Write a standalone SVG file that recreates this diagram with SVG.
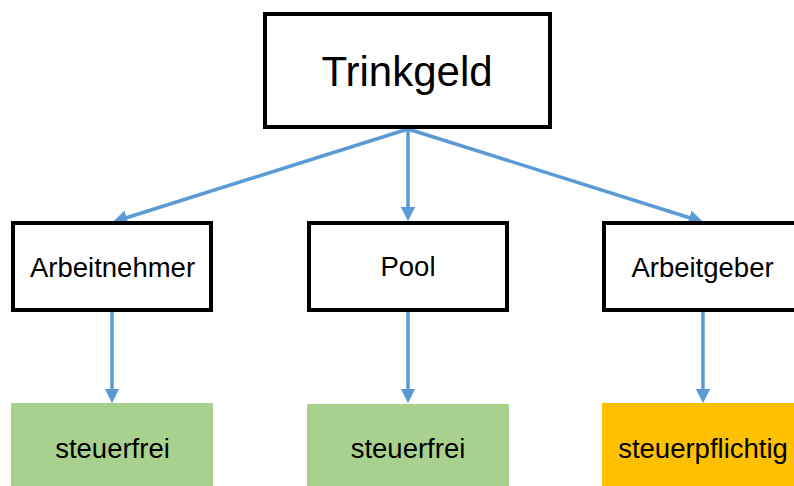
<svg xmlns="http://www.w3.org/2000/svg" width="794" height="486" viewBox="0 0 794 486">
  <style>
    .box { fill: #ffffff; stroke: #000000; stroke-width: 4; }
    .free { fill: #A9D18E; }
    .taxed { fill: #FFC000; }
    .label { font-family: "Liberation Sans", Arial, sans-serif; fill: #000000; text-anchor: middle; }
    .title { font-size: 42px; }
    .mid { font-size: 27.5px; }
    .leaf { font-size: 27.5px; }
    .link { stroke: #5B9BD5; stroke-width: 3.5; fill: none; marker-end: url(#arrow); }
  </style>
  <defs>
    <marker id="arrow" viewBox="0 0 10 10" refX="3" refY="5" markerWidth="4.2" markerHeight="4.2" orient="auto">
      <path d="M0,0 L10,5 L0,10 Z" fill="#5B9BD5"/>
    </marker>
  </defs>
  <rect width="794" height="486" fill="#ffffff"/>

  <g id="connectors">
    <line class="link" x1="408" y1="129" x2="122.5" y2="219"/>
    <line class="link" x1="408" y1="129" x2="408" y2="211"/>
    <line class="link" x1="408" y1="129" x2="693.5" y2="219"/>
    <line class="link" x1="112" y1="312" x2="112" y2="393"/>
    <line class="link" x1="408" y1="312" x2="408" y2="393"/>
    <line class="link" x1="703" y1="312" x2="703" y2="393"/>
  </g>

  <g id="trinkgeld">
    <rect class="box" x="265" y="14" width="285" height="113"/>
    <text class="label title" x="407" y="86">Trinkgeld</text>
  </g>

  <g id="arbeitnehmer">
    <rect class="box" x="13" y="223" width="198" height="87"/>
    <text class="label mid" x="112.5" y="277">Arbeitnehmer</text>
  </g>

  <g id="pool">
    <rect class="box" x="309" y="223" width="198" height="87"/>
    <text class="label mid" x="408" y="276">Pool</text>
  </g>

  <g id="arbeitgeber">
    <rect class="box" x="604" y="223" width="198" height="87"/>
    <text class="label mid" x="702.5" y="277">Arbeitgeber</text>
  </g>

  <g id="steuerfrei-arbeitnehmer">
    <rect class="free" x="11" y="403" width="202" height="90"/>
    <text class="label leaf" x="112.5" y="458">steuerfrei</text>
  </g>

  <g id="steuerfrei-pool">
    <rect class="free" x="307" y="404" width="202" height="90"/>
    <text class="label leaf" x="408" y="458">steuerfrei</text>
  </g>

  <g id="steuerpflichtig-arbeitgeber">
    <rect class="taxed" x="602" y="403" width="202" height="90"/>
    <text class="label leaf" x="703" y="458">steuerpflichtig</text>
  </g>
</svg>
